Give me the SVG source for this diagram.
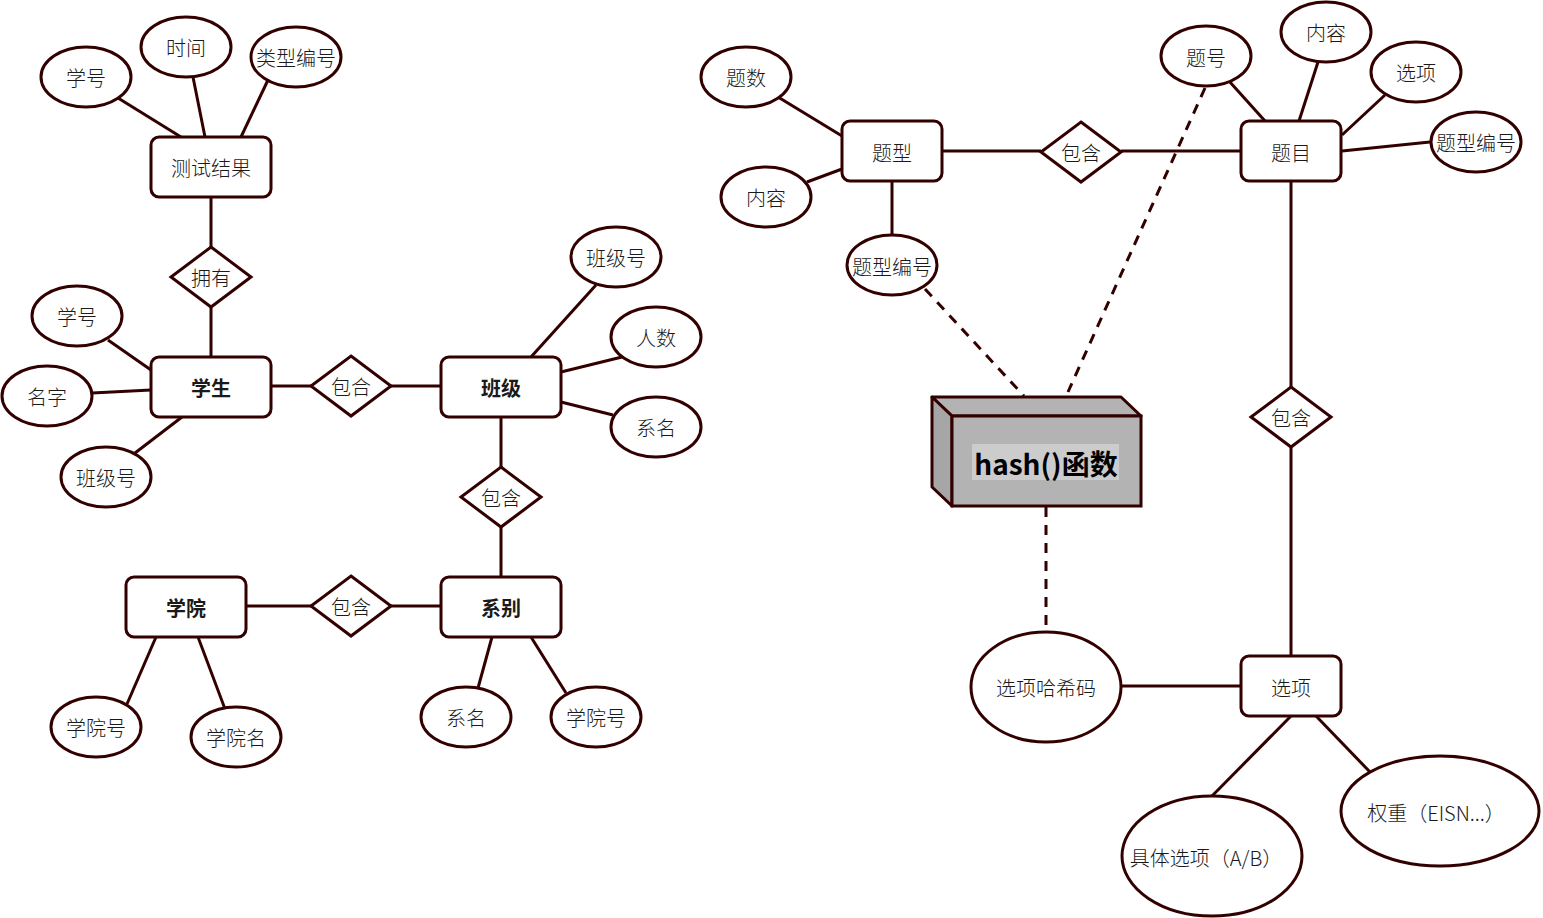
<svg xmlns="http://www.w3.org/2000/svg" width="1543" height="918" viewBox="0 0 1543 918">
<style>
.n{fill:#fff;stroke:#330000;stroke-width:3}
.l{stroke:#330000;stroke-width:3;fill:none}
.d{stroke:#330000;stroke-width:3;fill:none;stroke-dasharray:10 8}
text{font-family:"Noto Sans CJK SC","Noto Sans",sans-serif;font-size:20px;font-weight:300;fill:#1a1a1a;text-anchor:middle;dominant-baseline:central}
.b{font-weight:bold}
</style>
<rect width="1543" height="918" fill="#fff"/>
<g id="connectors">
<line class="l" x1="118" y1="98" x2="181" y2="137"/>
<line class="l" x1="193" y1="77" x2="205" y2="137"/>
<line class="l" x1="268" y1="80" x2="241" y2="137"/>
<line class="l" x1="211" y1="197" x2="211" y2="247"/>
<line class="l" x1="211" y1="307" x2="211" y2="357"/>
<line class="l" x1="108" y1="340" x2="151" y2="370"/>
<line class="l" x1="92" y1="393" x2="151" y2="390"/>
<line class="l" x1="135" y1="453" x2="182" y2="417"/>
<line class="l" x1="271" y1="386" x2="311" y2="386"/>
<line class="l" x1="391" y1="386" x2="441" y2="386"/>
<line class="l" x1="596" y1="285" x2="531" y2="357"/>
<line class="l" x1="622" y1="357" x2="561" y2="372"/>
<line class="l" x1="613" y1="415" x2="561" y2="402"/>
<line class="l" x1="501" y1="417" x2="501" y2="467"/>
<line class="l" x1="501" y1="527" x2="501" y2="577"/>
<line class="l" x1="246" y1="606" x2="311" y2="606"/>
<line class="l" x1="391" y1="606" x2="441" y2="606"/>
<line class="l" x1="156" y1="637" x2="127" y2="704"/>
<line class="l" x1="198" y1="637" x2="225" y2="709"/>
<line class="l" x1="492" y1="637" x2="478" y2="688"/>
<line class="l" x1="531" y1="637" x2="566" y2="693"/>
<line class="l" x1="778" y1="97" x2="842" y2="136"/>
<line class="l" x1="807" y1="182" x2="842" y2="169"/>
<line class="l" x1="892" y1="181" x2="892" y2="235"/>
<line class="l" x1="942" y1="151" x2="1041" y2="151"/>
<line class="l" x1="1121" y1="151" x2="1241" y2="151"/>
<line class="l" x1="1229" y1="81" x2="1265" y2="121"/>
<line class="l" x1="1318" y1="62" x2="1299" y2="121"/>
<line class="l" x1="1385" y1="95" x2="1342" y2="135"/>
<line class="l" x1="1430" y1="142" x2="1342" y2="151"/>
<line class="l" x1="1291" y1="181" x2="1291" y2="387"/>
<line class="l" x1="1291" y1="447" x2="1291" y2="656"/>
<line class="l" x1="1241" y1="686" x2="1121" y2="686"/>
<line class="l" x1="1291" y1="716" x2="1212" y2="796"/>
<line class="l" x1="1316" y1="716" x2="1370" y2="772"/>
<line class="d" x1="925" y1="289" x2="1024" y2="396"/>
<line class="d" x1="1205" y1="88" x2="1068" y2="392"/>
<line class="d" x1="1046" y1="507" x2="1046" y2="632"/>
</g>
<g id="n-ceshijieguo"><rect class="n" x="151" y="137" width="120" height="60" rx="8"/><text x="211" y="167">测试结果</text></g>
<g id="n-xuehao1"><ellipse class="n" cx="86" cy="77" rx="45" ry="30"/><text x="86" y="77">学号</text></g>
<g id="n-shijian"><ellipse class="n" cx="186" cy="47" rx="45" ry="30"/><text x="186" y="47">时间</text></g>
<g id="n-leixingbianhao"><ellipse class="n" cx="296" cy="57" rx="45" ry="30"/><text x="296" y="57">类型编号</text></g>
<g id="n-yongyou"><polygon class="n" points="211,247 251,277 211,307 171,277"/><text x="211" y="277">拥有</text></g>
<g id="n-xuesheng"><rect class="n" x="151" y="357" width="120" height="60" rx="8"/><text class="b" x="211" y="387">学生</text></g>
<g id="n-xuehao2"><ellipse class="n" cx="77" cy="316" rx="45" ry="30"/><text x="77" y="316">学号</text></g>
<g id="n-mingzi"><ellipse class="n" cx="47" cy="396" rx="45" ry="30"/><text x="47" y="396">名字</text></g>
<g id="n-banjihao1"><ellipse class="n" cx="106" cy="477" rx="45" ry="30"/><text x="106" y="477">班级号</text></g>
<g id="n-baohe1"><polygon class="n" points="351,356 391,386 351,416 311,386"/><text x="351" y="386">包合</text></g>
<g id="n-banji"><rect class="n" x="441" y="357" width="120" height="60" rx="8"/><text class="b" x="501" y="387">班级</text></g>
<g id="n-banjihao2"><ellipse class="n" cx="616" cy="257" rx="45" ry="30"/><text x="616" y="257">班级号</text></g>
<g id="n-renshu"><ellipse class="n" cx="656" cy="337" rx="45" ry="30"/><text x="656" y="337">人数</text></g>
<g id="n-ximing1"><ellipse class="n" cx="656" cy="427" rx="45" ry="30"/><text x="656" y="427">系名</text></g>
<g id="n-baohan1"><polygon class="n" points="501,467 541,497 501,527 461,497"/><text x="501" y="497">包含</text></g>
<g id="n-xibie"><rect class="n" x="441" y="577" width="120" height="60" rx="8"/><text class="b" x="501" y="607">系别</text></g>
<g id="n-xueyuan"><rect class="n" x="126" y="577" width="120" height="60" rx="8"/><text class="b" x="186" y="607">学院</text></g>
<g id="n-baohan2"><polygon class="n" points="351,576 391,606 351,636 311,606"/><text x="351" y="606">包含</text></g>
<g id="n-xueyuanhao1"><ellipse class="n" cx="96" cy="727" rx="45" ry="30"/><text x="96" y="727">学院号</text></g>
<g id="n-xueyuanming"><ellipse class="n" cx="236" cy="737" rx="45" ry="30"/><text x="236" y="737">学院名</text></g>
<g id="n-ximing2"><ellipse class="n" cx="466" cy="717" rx="45" ry="30"/><text x="466" y="717">系名</text></g>
<g id="n-xueyuanhao2"><ellipse class="n" cx="596" cy="717" rx="45" ry="30"/><text x="596" y="717">学院号</text></g>
<g id="n-tixing"><rect class="n" x="842" y="121" width="100" height="60" rx="8"/><text x="892" y="152">题型</text></g>
<g id="n-tishu"><ellipse class="n" cx="746" cy="77" rx="45" ry="30"/><text x="746" y="77">题数</text></g>
<g id="n-neirong1"><ellipse class="n" cx="766" cy="197" rx="45" ry="30"/><text x="766" y="197">内容</text></g>
<g id="n-tixingbianhao1"><ellipse class="n" cx="892" cy="265" rx="45" ry="30"/><text x="892" y="266">题型编号</text></g>
<g id="n-baohan3"><polygon class="n" points="1081,122 1121,152 1081,182 1041,152"/><text x="1081" y="152">包含</text></g>
<g id="n-timu"><rect class="n" x="1241" y="121" width="100" height="60" rx="8"/><text x="1291" y="152">题目</text></g>
<g id="n-tihao"><ellipse class="n" cx="1206" cy="56" rx="45" ry="30"/><text x="1206" y="57">题号</text></g>
<g id="n-neirong2"><ellipse class="n" cx="1326" cy="32" rx="45" ry="30"/><text x="1326" y="32">内容</text></g>
<g id="n-xuanxiang1"><ellipse class="n" cx="1416" cy="72" rx="45" ry="30"/><text x="1416" y="72">选项</text></g>
<g id="n-tixingbianhao2"><ellipse class="n" cx="1476" cy="142" rx="45" ry="30"/><text x="1476" y="142">题型编号</text></g>
<g id="n-baohan4"><polygon class="n" points="1291,387 1331,417 1291,447 1251,417"/><text x="1291" y="417">包含</text></g>
<g id="n-xuanxiang2"><rect class="n" x="1241" y="656" width="100" height="60" rx="8"/><text x="1291" y="687">选项</text></g>
<g id="n-hashcode"><ellipse class="n" cx="1046" cy="687" rx="75" ry="55"/><text x="1046" y="687">选项哈希码</text></g>
<g id="n-juti"><ellipse class="n" cx="1212" cy="856" rx="90" ry="60"/><text x="1206" y="857">具体选项（A/B）</text></g>
<g id="n-quanzhong"><ellipse class="n" cx="1440" cy="811" rx="99" ry="55"/><text x="1436" y="812">权重（EISN...）</text></g>
<g id="n-hash">
<polygon points="932,397 1121,397 1141,416 952,416" fill="#b3b3b3" stroke="#330000" stroke-width="3" stroke-linejoin="round"/>
<polygon points="932,397 952,416 952,506 932,487" fill="#a6a6a6" stroke="#330000" stroke-width="3" stroke-linejoin="round"/>
<rect x="952" y="416" width="189" height="90" fill="#b3b3b3" stroke="#330000" stroke-width="3"/>
<rect x="972" y="444" width="147" height="36" fill="#cccccc"/>
<text class="b" x="1046" y="463" style="font-size:28px;fill:#000">hash()函数</text>
</g>
</svg>
